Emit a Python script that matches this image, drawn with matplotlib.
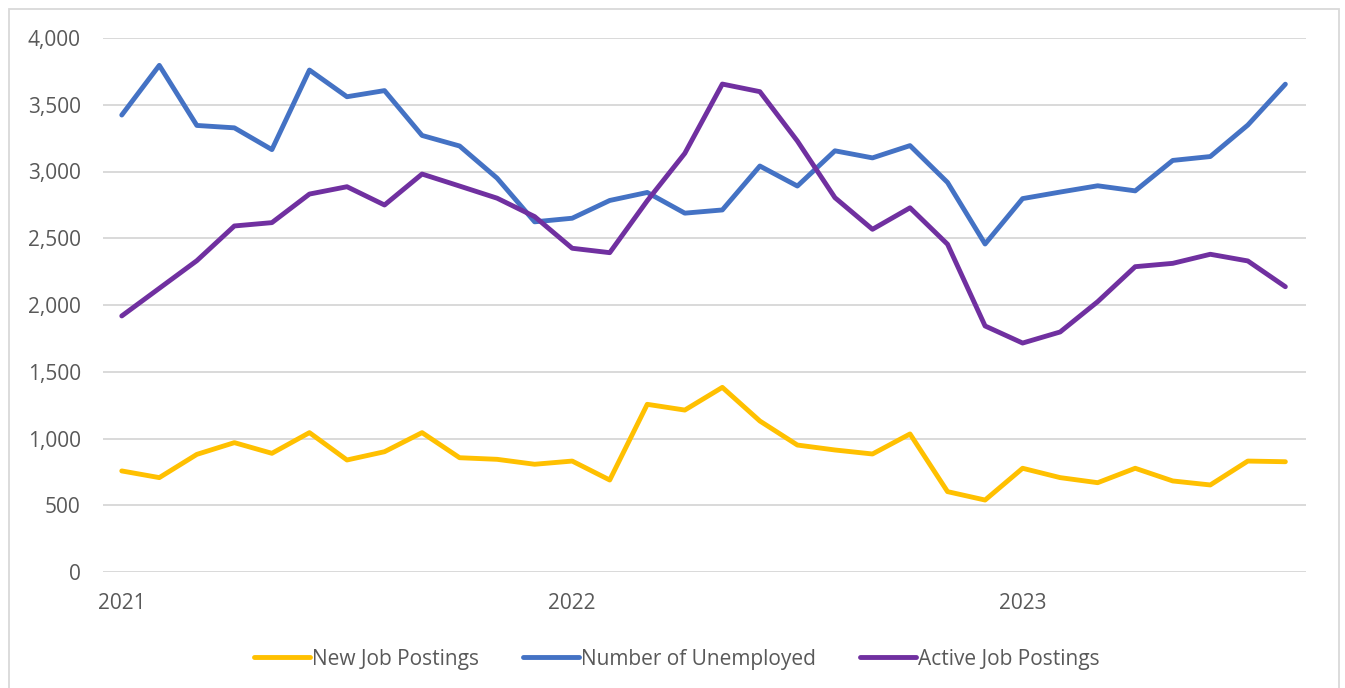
import numpy as np
import matplotlib
matplotlib.use('Agg')
import matplotlib.pyplot as plt
from matplotlib.patches import Rectangle

# monthly values, Jan 2021 .. Aug 2023
months = np.arange(32)
year_ticks = [0, 12, 24]
year_labels = ['2021', '2022', '2023']

new_postings = [757, 707, 881, 969, 889, 1044, 839, 901, 1044, 856, 844, 807,
                831, 689, 1256, 1213, 1383, 1131, 951, 914, 884, 1034, 602, 539,
                777, 707, 669, 777, 682, 652, 831, 826]
unemployed = [3423, 3795, 3345, 3327, 3164, 3760, 3560, 3606, 3270, 3191, 2950, 2623,
              2650, 2783, 2843, 2688, 2712, 3041, 2891, 3155, 3102, 3194, 2918, 2457,
              2797, 2846, 2893, 2855, 3083, 3112, 3348, 3654]
active_postings = [1918, 2125, 2332, 2592, 2617, 2831, 2886, 2749, 2981, 2891, 2800, 2662,
                   2425, 2392, 2781, 3136, 3655, 3598, 3228, 2804, 2567, 2728, 2455, 1843,
                   1715, 1798, 2025, 2287, 2312, 2380, 2330, 2137]

plt.rcParams['font.family'] = ['Open Sans', 'DejaVu Sans']

fig = plt.figure(figsize=(13.45, 6.88), dpi=100)
ax = fig.add_axes([103/1345., 1-572/688., (1306-103)/1345., (572-38)/688.])

lw = 3.5
ax.plot(months, new_postings, color='#FFC000', lw=lw, label='New Job Postings',
        solid_capstyle='round', solid_joinstyle='round')
ax.plot(months, unemployed, color='#4472C4', lw=lw, label='Number of Unemployed',
        solid_capstyle='round', solid_joinstyle='round')
ax.plot(months, active_postings, color='#7030A0', lw=lw, label='Active Job Postings',
        solid_capstyle='round', solid_joinstyle='round')

ax.set_ylim(0, 4000)
ax.set_xlim(-0.5, 31.55)
ax.set_yticks(np.arange(0, 4001, 500))
ax.yaxis.set_major_formatter(matplotlib.ticker.FuncFormatter(lambda v, p: '{:,.0f}'.format(v)))
ax.set_xticks(year_ticks)
ax.set_xticklabels(year_labels)
ax.grid(True, axis='y', color='#D9D9D9', lw=1.4)
ax.set_axisbelow(True)
for s in ax.spines.values():
    s.set_visible(False)
ax.tick_params(length=0, labelsize=15, colors='#595959')
ax.tick_params(axis='y', pad=16)
ax.tick_params(axis='x', pad=15)

fig.legend(loc='center', bbox_to_anchor=(0.503, 1-659/688.), ncol=3, frameon=False,
           fontsize=15, labelcolor='#595959', handlelength=2.7, handletextpad=0.1,
           columnspacing=2.1)

fig.patches.append(Rectangle((9/1345., -0.02), (1339-9)/1345., 1-9/688.+0.02,
                             transform=fig.transFigure, fill=False,
                             edgecolor='#D9D9D9', lw=1.3))

fig.savefig('out.png', dpi=100)
